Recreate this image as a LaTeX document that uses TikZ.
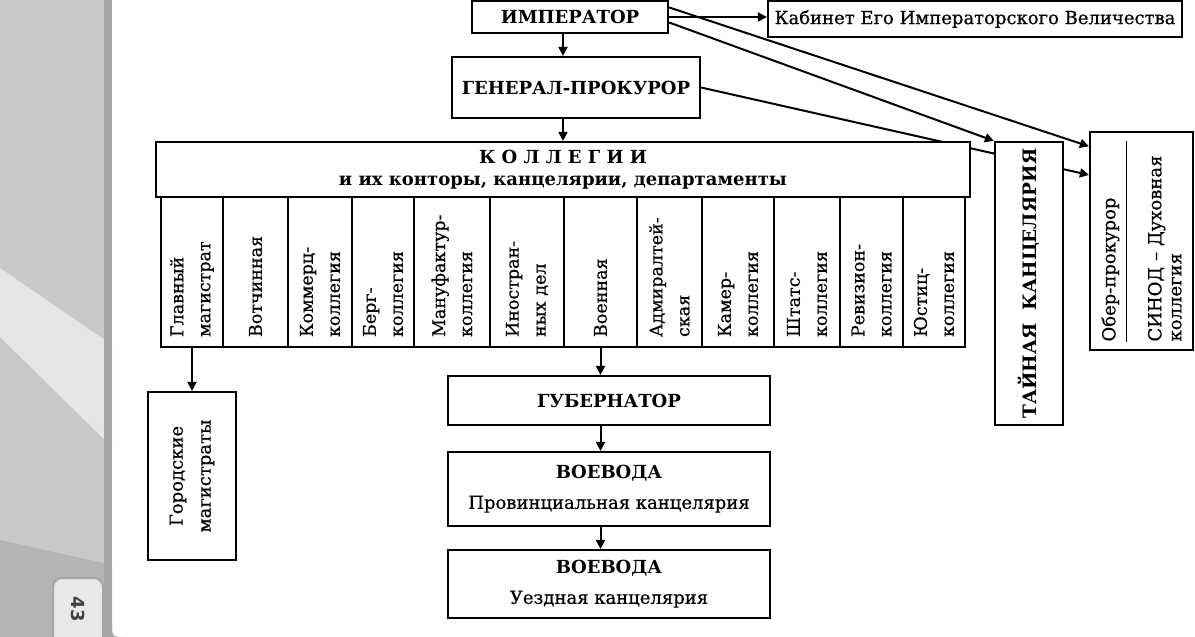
\documentclass[tikz,border=0pt]{standalone}
\usepackage{fontspec}
\setmainfont{DejaVu Serif}[UprightFeatures={FakeBold=0.6}]
\setsansfont{DejaVu Sans}
\usetikzlibrary{arrows.meta,calc,backgrounds}
\definecolor{margintop}{RGB}{200,200,200}
\definecolor{marginband}{RGB}{229,229,229}
\definecolor{marginbot}{RGB}{180,180,180}
\definecolor{marginedge}{RGB}{165,165,165}
\definecolor{tabfill}{RGB}{232,232,232}
\tikzset{
    box/.style={draw, line width=2.2pt, fill=white, inner sep=0pt, align=center,
        font=\fontsize{18}{21}\selectfont},
    colbox/.style={box, rotate=90, minimum width=150pt, text width=130pt,
        inner xsep=10pt, align=left, font=\fontsize{17.5}{27}\selectfont},
    arr/.style={line width=2pt, -{Triangle[length=9pt,width=9pt]}}
}
\begin{document}
\begin{tikzpicture}[x=1pt,y=-1pt]
    \useasboundingbox (0,0) rectangle (1195,637);
    \fill[margintop] (0,0) rectangle (112,637);
    \fill[marginband] (0,268) -- (112,345) -- (112,447) -- (0,337) -- cycle;
    \fill[marginbot] (0,540) -- (112,565) -- (112,637) -- (0,637) -- cycle;
    \fill[marginedge] (104,0) rectangle (112,637);
    \fill[marginbot] (112,622) .. controls (112,637) .. (127,637) -- (112,637) -- cycle;
    \draw[marginedge, fill=tabfill, line width=2pt, rounded corners=9] (53,578) rectangle (103,650);
    \node[font=\sffamily\bfseries\fontsize{18}{18}\selectfont, text=black!75, rotate=-90] (pagenum) at (78,609) {43};

    \node[box, minimum width=196pt, minimum height=32pt] (imp) at (570,17) {\textbf{ИМПЕРАТОР}};
    \node[box, minimum width=414pt, minimum height=36pt] (kab) at (975,19) {Кабинет Его Императорского Величества};
    \node[box, minimum width=248pt, minimum height=61pt] (gp) at (576,87.5) {\textbf{ГЕНЕРАЛ-ПРОКУРОР}};
    \node[box, minimum width=814pt, minimum height=55pt, font=\fontsize{18}{22}\selectfont] (kol) at (563,169.5)
        {\textbf{К О Л Л Е Г И И}\\ \textbf{и их конторы, канцелярии, департаменты}};

    \node[colbox, minimum height=62pt] (c1) at (192,272) {Главный\\магистрат};
    \node[colbox, minimum height=65pt] (c2) at (255.5,272) {Вотчинная};
    \node[colbox, minimum height=64pt] (c3) at (320,272) {Коммерц-\\коллегия};
    \node[colbox, minimum height=62pt] (c4) at (383,272) {Берг-\\коллегия};
    \node[colbox, minimum height=76pt] (c5) at (452,272) {Мануфактур-\\коллегия};
    \node[colbox, minimum height=74pt] (c6) at (527,272) {Иностран-\\ных дел};
    \node[colbox, minimum height=73pt] (c7) at (600.5,272) {Военная};
    \node[colbox, minimum height=65pt] (c8) at (669.5,272) {Адмиралтей-\\ская};
    \node[colbox, minimum height=72pt] (c9) at (738,272) {Камер-\\коллегия};
    \node[colbox, minimum height=66pt] (c10) at (807,272) {Штатс-\\коллегия};
    \node[colbox, minimum height=63pt] (c11) at (871.5,272) {Ревизион-\\коллегия};
    \node[colbox, minimum height=62pt] (c12) at (934,272) {Юстиц-\\коллегия};

    \node[box, rotate=90, minimum width=168pt, minimum height=88pt, font=\fontsize{18}{28}\selectfont] (gor) at (192,476)
        {Городские\\магистраты};
    \node[box, minimum width=322pt, minimum height=49pt] (gub) at (609,400.5) {\textbf{ГУБЕРНАТОР}};
    \node[box, minimum width=322pt, minimum height=74pt, font=\fontsize{18}{30}\selectfont] (voe1) at (609,489)
        {\textbf{ВОЕВОДА}\\Провинциальная канцелярия};
    \node[box, minimum width=322pt, minimum height=68pt, font=\fontsize{18}{30}\selectfont] (voe2) at (609,584)
        {\textbf{ВОЕВОДА}\\Уездная канцелярия};

    \node[box, rotate=90, minimum width=283pt, minimum height=68pt, font=\fontsize{18.5}{21}\selectfont] (tai) at (1029,283.5)
        {\textbf{ТАЙНАЯ\ \ КАНЦЕЛЯРИЯ}};
    \node[box, rotate=90, minimum width=218pt, minimum height=103pt, text width=201pt, inner xsep=8.5pt, align=left] (syn)
        at (1141.5,241) {Обер-прокурор\\[-9.4pt]\rule{201pt}{1.2pt}\\[13.4pt]СИНОД – Духовная\\[-1pt]коллегия};

    \draw[arr] (imp.east) -- (imp.east -| kab.west);
    \draw[arr] (imp.south -| kol.north) -- (gp.north -| kol.north);
    \draw[arr] (gp.south -| kol.north) -- (kol.north);
    \draw[arr] ($(imp.north east)!0.66!(imp.south east)$) -- (tai.north east);
    \draw[arr] ($(imp.north east)!0.22!(imp.south east)$) -- ($(syn.north east)!0.07!(syn.north west)$);
    \begin{scope}[on background layer]
        \draw[arr] (gp.east) -- ($(syn.north east)!0.2!(syn.north west)$);
    \end{scope}
    \draw[arr] (c1.west) -- (gor.east);
    \draw[arr] (c7.west) -- (c7.west |- gub.north);
    \draw[arr] (gub.south -| c7.west) -- (voe1.north -| c7.west);
    \draw[arr] (voe1.south -| c7.west) -- (voe2.north -| c7.west);
\end{tikzpicture}
\end{document}
